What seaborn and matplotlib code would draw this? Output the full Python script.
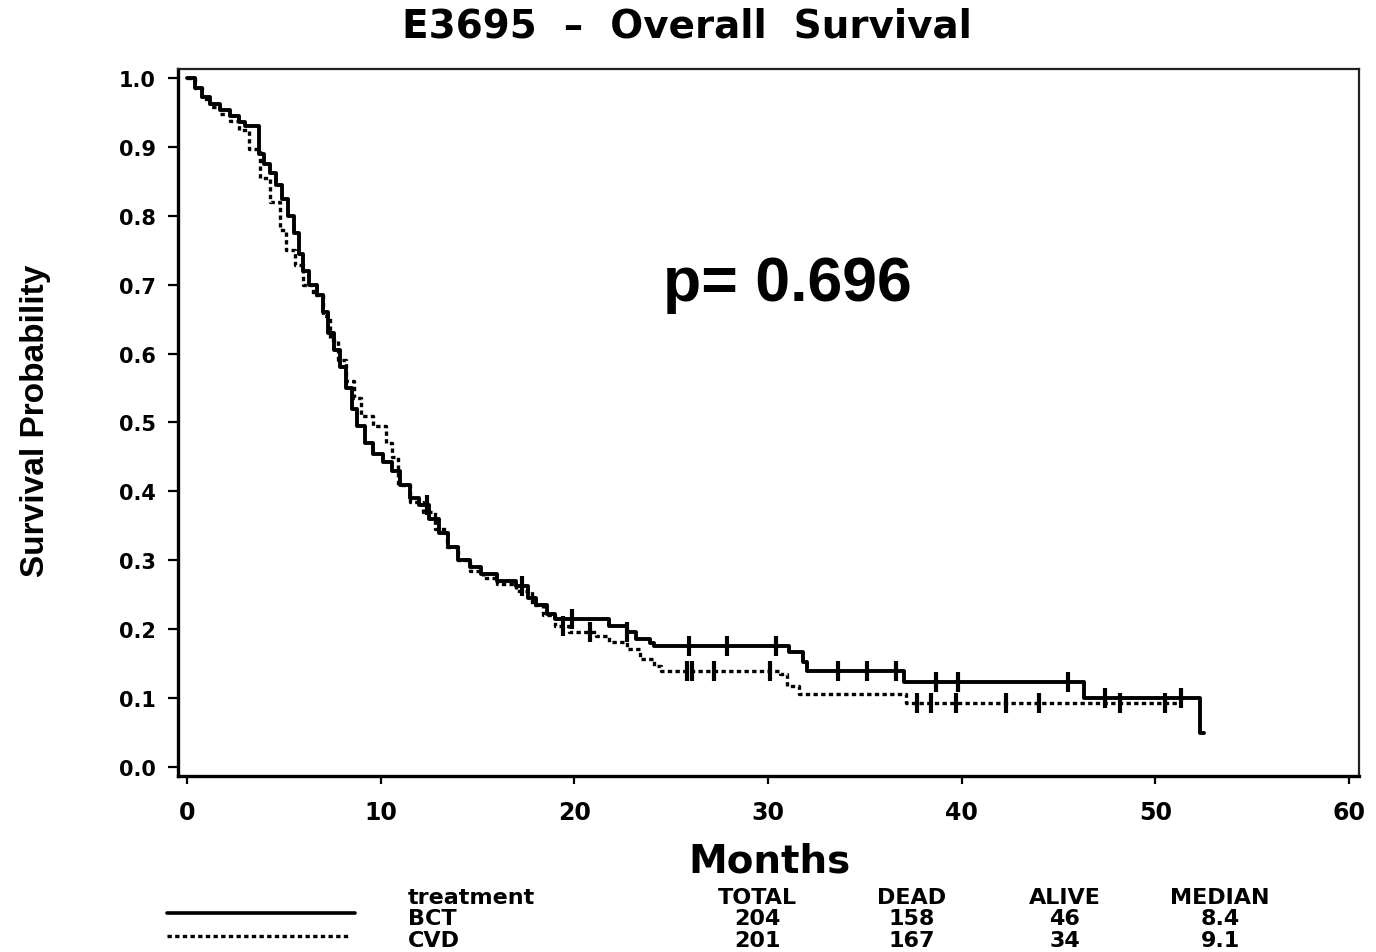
import numpy as np
import pandas as pd
import matplotlib
matplotlib.use("Agg")
import matplotlib.pyplot as plt
from matplotlib.lines import Line2D
import seaborn as sns

# ---------------- data ----------------
title = "E3695  \u2013  Overall  Survival"
arms = ["BCT", "CVD"]

bct_time = [0, 0.4, 0.8, 1.2, 1.7, 2.2, 2.7, 3.0, 3.7, 4.0, 4.3, 4.6, 4.9, 5.2, 5.5, 5.8,
            6.0, 6.3, 6.7, 7.0, 7.3, 7.6, 7.9, 8.2, 8.5, 8.8, 9.2, 9.6, 10.1, 10.6, 11.0,
            11.5, 12.0, 12.5, 13.0, 13.5, 14.0, 14.6, 15.2, 16.0, 17.0, 17.6, 18.0, 18.6,
            19.0, 21.8, 22.7, 23.2, 23.9, 24.1, 31.1, 31.8, 32.0, 37.0, 46.3, 52.3, 52.5]
bct_surv = [1.0, 0.985, 0.972, 0.962, 0.953, 0.945, 0.936, 0.93, 0.89, 0.875, 0.862, 0.845,
            0.825, 0.80, 0.775, 0.745, 0.72, 0.70, 0.685, 0.66, 0.63, 0.605, 0.58, 0.55,
            0.52, 0.495, 0.47, 0.455, 0.443, 0.43, 0.41, 0.39, 0.38, 0.36, 0.34, 0.32, 0.30,
            0.29, 0.28, 0.27, 0.262, 0.245, 0.235, 0.222, 0.215, 0.205, 0.196, 0.186, 0.18,
            0.176, 0.167, 0.152, 0.139, 0.123, 0.10, 0.05, 0.05]

cvd_time = [0, 0.4, 0.8, 1.2, 1.7, 2.2, 2.7, 3.2, 3.75, 4.3, 4.8, 5.1, 5.6, 6.0, 6.5, 7.0,
            7.4, 7.8, 8.2, 8.6, 9.0, 9.6, 10.3, 10.6, 10.9, 11.5, 12.2, 12.8, 13.4, 14.0,
            14.6, 15.3, 16.0, 17.0, 17.8, 18.4, 19.0, 19.7, 21.1, 21.8, 22.7, 23.4, 24.1,
            24.5, 30.6, 31.0, 31.6, 37.1, 51.2]
cvd_surv = [1.0, 0.985, 0.97, 0.958, 0.948, 0.937, 0.925, 0.897, 0.855, 0.82, 0.78, 0.75,
            0.728, 0.70, 0.685, 0.655, 0.62, 0.59, 0.56, 0.535, 0.51, 0.495, 0.47, 0.45,
            0.41, 0.385, 0.37, 0.345, 0.32, 0.30, 0.285, 0.275, 0.265, 0.255, 0.235, 0.22,
            0.205, 0.196, 0.19, 0.181, 0.171, 0.157, 0.147, 0.14, 0.135, 0.118, 0.106,
            0.093, 0.093]

bct_censor = [12.4, 17.3, 19.9, 22.7, 25.9, 27.9, 30.4, 33.6, 35.1, 36.6, 38.7, 39.8,
              45.5, 47.4, 51.3]
cvd_censor = [19.4, 20.8, 25.8, 26.1, 27.2, 30.1, 37.7, 38.4, 39.7, 42.3, 44.0, 48.2, 50.5]

x_ticks = [0, 10, 20, 30, 40, 50, 60]
y_ticks = [0.0, 0.1, 0.2, 0.3, 0.4, 0.5, 0.6, 0.7, 0.8, 0.9, 1.0]

p_text = "p= 0.696"
table_header = ["treatment", "TOTAL", "DEAD", "ALIVE", "MEDIAN"]
table_total = ["204", "201"]
table_dead = ["158", "167"]
table_alive = ["46", "34"]
table_median = ["8.4", "9.1"]

# ---------------- figure ----------------
sns.set_theme(style="white")
plt.rcParams["font.family"] = ["DejaVu Sans"]
plt.rcParams["text.color"] = "black"
plt.rcParams["axes.labelcolor"] = "black"
plt.rcParams["xtick.color"] = "black"
plt.rcParams["ytick.color"] = "black"

W, H = 1376, 953
fig = plt.figure(figsize=(W / 100, H / 100), dpi=100)
fig.patch.set_facecolor("white")

L, R, T, B = 178, 1359, 70, 777
ax = fig.add_axes([L / W, 1 - B / H, (R - L) / W, (B - T) / H])
ax.set_facecolor("white")


def censor_surv(times, surv, ct):
    idx = np.searchsorted(np.asarray(times), np.asarray(ct), side="right") - 1
    return np.asarray(surv)[idx]


df_bct = pd.DataFrame({"Months": bct_time, "Survival": bct_surv})
df_cvd = pd.DataFrame({"Months": cvd_time, "Survival": cvd_surv})

sns.lineplot(data=df_bct, x="Months", y="Survival", ax=ax, color="black", lw=2.8,
             drawstyle="steps-post", estimator=None, sort=False)
sns.lineplot(data=df_cvd, x="Months", y="Survival", ax=ax, color="black", lw=2.4,
             drawstyle="steps-post", estimator=None, sort=False, linestyle=(0, (1.3, 1.0)))

cb = pd.DataFrame({"Months": bct_censor, "Survival": censor_surv(bct_time, bct_surv, bct_censor)})
cc = pd.DataFrame({"Months": cvd_censor, "Survival": censor_surv(cvd_time, cvd_surv, cvd_censor)})
sns.scatterplot(data=cb, x="Months", y="Survival", ax=ax, marker="|", s=220,
                color="black", linewidth=3, legend=False)
sns.scatterplot(data=cc, x="Months", y="Survival", ax=ax, marker="|", s=220,
                color="black", linewidth=3, legend=False)

# axes scaling: 0 months at px 187, 60 at 1349; surv 0 at px 768, 1 at 79
ppm = (1349 - 187) / 60
ax.set_xlim((L - 187) / ppm, (R - 187) / ppm)
pps = 768 - 79
ax.set_ylim((768 - B) / pps, (768 - T) / pps)

ax.set_xticks(x_ticks)
ax.set_xticklabels([str(v) for v in x_ticks], fontsize=17, fontweight="bold", color="black")
ax.set_yticks(y_ticks)
ax.set_yticklabels([f"{v:.1f}" for v in y_ticks], fontsize=15, fontweight="bold", color="black")
ax.tick_params(axis="x", direction="out", length=6, width=1.6, pad=11, colors="black",
               bottom=True)
ax.tick_params(axis="y", direction="out", length=7, width=1.6, pad=9, colors="black",
               left=True)

for side in ["left", "bottom"]:
    ax.spines[side].set_linewidth(2.4)
    ax.spines[side].set_color("black")
for side in ["top", "right"]:
    ax.spines[side].set_linewidth(1.6)
    ax.spines[side].set_color("#222222")

ax.set_xlabel("Months", fontsize=28, fontweight="bold", va="center", color="black")
ax.xaxis.set_label_coords((769 - L) / (R - L), (B - 862) / (B - T))
ax.set_ylabel("Survival Probability", fontsize=24, fontfamily="Liberation Sans",
              fontweight="bold", ha="center", va="center", color="black")
ax.yaxis.set_label_coords((36 - L) / (R - L), (B - 421) / (B - T))

fig.text(687 / W, 1 - 26 / H, title, fontsize=28, fontweight="bold",
         ha="center", va="center", color="black")

fig.text(663 / W, 1 - 284 / H, p_text, fontsize=45, fontweight="bold",
         fontfamily="Liberation Sans", ha="left", va="center", color="black")

# ---------------- bottom summary table ----------------
fig.add_artist(Line2D([167 / W, 355 / W], [1 - 914 / H, 1 - 914 / H], color="black", lw=2.6))
fig.add_artist(Line2D([167 / W, 348 / W], [1 - 937 / H, 1 - 937 / H], color="black", lw=2.4,
                      linestyle=(0, (1.3, 1.0))))

row_y = [898, 919, 941]
fs = 16
fig.text(408 / W, 1 - row_y[0] / H, table_header[0], fontsize=fs, fontweight="bold",
         ha="left", va="center", color="black")
col_x = [757, 912, 1065, 1220]
for cx, h in zip(col_x, table_header[1:]):
    fig.text(cx / W, 1 - row_y[0] / H, h, fontsize=fs, fontweight="bold",
             ha="center", va="center", color="black")
for i, arm in enumerate(arms):
    y = 1 - row_y[i + 1] / H
    fig.text(408 / W, y, arm, fontsize=fs, fontweight="bold", ha="left", va="center",
             color="black")
    vals = [table_total[i], table_dead[i], table_alive[i], table_median[i]]
    for cx, v in zip(col_x, vals):
        fig.text(cx / W, y, v, fontsize=fs, fontweight="bold", ha="center", va="center",
                 color="black")

fig.savefig("out.png", dpi=100, facecolor="white")
